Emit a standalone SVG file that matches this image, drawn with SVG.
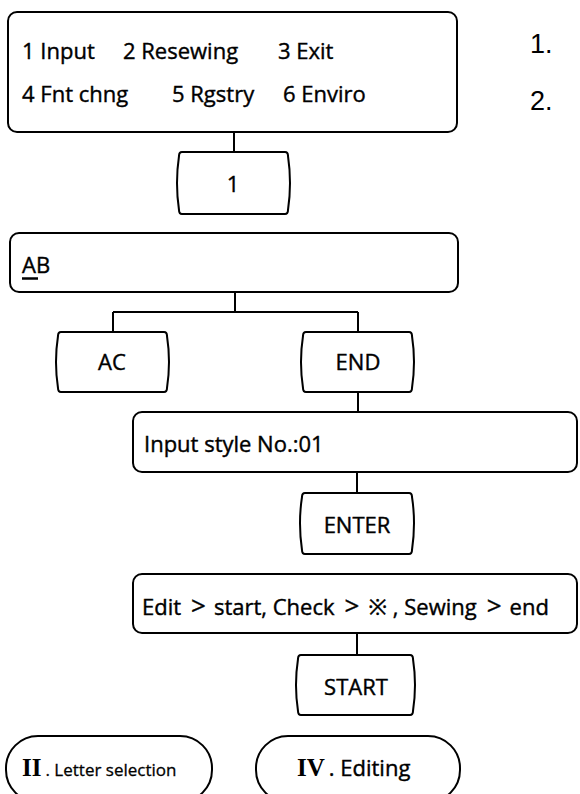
<svg xmlns="http://www.w3.org/2000/svg" width="580" height="794" viewBox="0 0 580 794">
<style>
.box{fill:#fff;stroke:#000;stroke-width:2}
.key{fill:#fff;stroke:#000;stroke-width:2;stroke-linejoin:round}
.conn{stroke:#000;stroke-width:2;fill:none}
.t{font-family:"Open Sans","Noto Sans","DejaVu Sans",sans-serif;font-size:22px;fill:#000;stroke:#000;stroke-width:0.4}
.c{text-anchor:middle}
.s{font-size:17px;stroke-width:0.3}
.g{font-size:26px}
.rn{font-family:"Liberation Serif","DejaVu Serif",serif;font-size:25px;font-weight:bold;fill:#000}
.num{font-family:"Liberation Sans",Arial,sans-serif;font-size:27px;fill:#000}
</style>
<rect width="580" height="794" fill="#fff"/>
<g id="connectors">
<path class="conn" d="M234 132V152"/>
<path class="conn" d="M235 292V312M113 312H358M113 312V332M358 312V332"/>
<path class="conn" d="M358 392V412"/>
<path class="conn" d="M357 472V493"/>
<path class="conn" d="M357 633V655"/>
</g>
<g id="menu">
<rect class="box" x="8" y="12" width="449" height="120" rx="9"/>
<text class="t" x="22" y="59">1 Input</text>
<text class="t" x="123" y="59">2 Resewing</text>
<text class="t" x="278" y="59">3 Exit</text>
<text class="t" x="22" y="102">4 Fnt chng</text>
<text class="t" x="172" y="102">5 Rgstry</text>
<text class="t" x="283" y="102">6 Enviro</text>
</g>
<g id="key1">
<path class="key" d="M182 152H285Q288 152 288 156Q292 183 288 210Q288 214 285 214H182Q179 214 179 210Q175 183 179 156Q179 152 182 152Z"/>
<text class="t c" x="233" y="192">1</text>
</g>
<g id="ab">
<rect class="box" x="10" y="233" width="448" height="59" rx="9"/>
<text class="t" x="22" y="273">AB</text>
<path d="M22 278.5H38" stroke="#000" stroke-width="2.5"/>
</g>
<g id="keyAC">
<path class="key" d="M61 332H164Q167 332 167 336Q171 362 167 388Q167 392 164 392H61Q58 392 58 388Q54 362 58 336Q58 332 61 332Z"/>
<text class="t c" x="112" y="370">AC</text>
</g>
<g id="keyEND">
<path class="key" d="M306 332H409Q412 332 412 336Q416 362 412 388Q412 392 409 392H306Q303 392 303 388Q299 362 303 336Q303 332 306 332Z"/>
<text class="t c" x="358" y="370">END</text>
</g>
<g id="style">
<rect class="box" x="133" y="412" width="444" height="60" rx="9"/>
<text class="t" x="144" y="452">Input style No.:01</text>
</g>
<g id="keyENTER">
<path class="key" d="M305 493H409Q412 493 412 497Q416 523 412 550Q412 554 409 554H305Q302 554 302 550Q298 523 302 497Q302 493 305 493Z"/>
<text class="t c" x="357" y="533">ENTER</text>
</g>
<g id="edit">
<rect class="box" x="133" y="574" width="444" height="59" rx="9"/>
<text class="t" x="142" y="615">Edit<tspan class="g" dx="10">&gt;</tspan><tspan dx="8">start, Check</tspan><tspan class="g" dx="10">&gt;</tspan><tspan dx="9">※</tspan><tspan dx="6">, Sewing</tspan><tspan class="g" dx="10">&gt;</tspan><tspan dx="8">end</tspan></text>
</g>
<g id="keySTART">
<path class="key" d="M301 655H410Q413 655 413 659Q417 685 413 711Q413 715 410 715H301Q298 715 298 711Q294 685 298 659Q298 655 301 655Z"/>
<text class="t c" x="356" y="695">START</text>
</g>
<g id="letter">
<rect class="box" x="6" y="736" width="206" height="66" rx="32"/>
<text x="22" y="776"><tspan class="rn">II</tspan><tspan class="t s" dx="4">. Letter selection</tspan></text>
</g>
<g id="editing">
<rect class="box" x="256" y="736" width="204" height="66" rx="32"/>
<text x="297" y="776"><tspan class="rn">IV</tspan><tspan class="t" dx="4">. Editing</tspan></text>
</g>
<g id="notes">
<text class="num" x="530" y="53">1.</text>
<text class="num" x="530" y="110">2.</text>
</g>
</svg>
